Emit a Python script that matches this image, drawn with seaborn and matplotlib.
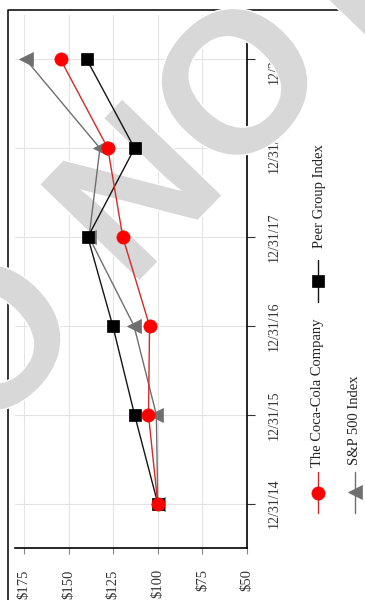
import numpy as np
import pandas as pd
import matplotlib
matplotlib.use("Agg")
import matplotlib.pyplot as plt
import matplotlib.patheffects as pe
from matplotlib.lines import Line2D
import seaborn as sns

# Five-year cumulative total return, $100 invested on 12/31/14
dates = ["12/31/14", "12/31/15", "12/31/16", "12/31/17", "12/31/18", "12/31/19"]
coca_cola = [100, 105.2, 104.6, 119.6, 128.0, 154.5]
peer_group = [100, 113.0, 125.2, 139.2, 113.0, 139.8]
sp500 = [100, 100.8, 113.3, 138.5, 132.4, 174.0]
value_ticks = [50, 75, 100, 125, 150, 175]
value_labels = [f"${v}" for v in value_ticks]
series_names = ["S&P 500 Index", "Peer Group Index", "The Coca-Cola Company"]

W, H = 365, 600

sns.set_style("white")
plt.rcParams["font.family"] = ["Liberation Serif", "DejaVu Serif"]

pos = np.arange(len(dates))
df = pd.DataFrame({
    "date_pos": np.tile(pos, 3),
    "value": sp500 + peer_group + coca_cola,
    "series": np.repeat(series_names, len(dates)),
})

styles = {
    "S&P 500 Index": dict(color="#6f6f6f", marker="<", markersize=9.5,
                          mfc="#6f6f6f", mec="#6f6f6f", mew=0.5),
    "Peer Group Index": dict(color="#151515", marker="s", markersize=9.3,
                             mfc="#000000", mec="#000000", mew=0.5),
    "The Coca-Cola Company": dict(color="#d42a2a", marker="o", markersize=9.5,
                                  mfc="#ff0000", mec="#ff0000", mew=0.5),
}

fig = plt.figure(figsize=(W / 100, H / 100), dpi=100)
ax = fig.add_axes([15 / W, 52 / H, 232 / W, 533 / H])

# page is turned on its side: value runs right-to-left, dates bottom-to-top
for name in series_names:
    sub = df[df["series"] == name]
    sns.lineplot(data=sub, x="value", y="date_pos", orient="y", sort=False,
                 estimator=None, linewidth=1.0, ax=ax, legend=False,
                 **styles[name])

ax.set_xlim(180, 50)
ax.set_ylim(-0.5, 5.5)
ax.set_xticks(value_ticks)
ax.set_xticklabels(value_labels, rotation=90)
ax.yaxis.tick_right()
ax.set_yticks(pos)
ax.set_yticklabels(dates, rotation=90, va="center")
ax.set_xlabel("")
ax.set_ylabel("")

ax.set_axisbelow(True)
ax.grid(True, color="#e4e4e4", linewidth=0.8)
for side in ("left", "top"):
    ax.spines[side].set_visible(False)
for side in ("bottom", "right"):
    ax.spines[side].set_linewidth(1.2)
    ax.spines[side].set_color("#000000")
    ax.spines[side].set_zorder(1)

ax.tick_params(axis="x", bottom=True, length=4.3, width=0.8, color="#888888",
               pad=11, labelsize=10.5, labelcolor="#333333")
ax.tick_params(axis="y", right=True, left=False, labelright=True,
               labelleft=False, length=5.8, width=0.8, color="#333333",
               pad=9, labelsize=10, labelcolor="#333333")

# page border
fig.add_artist(Line2D([8 / W, 8 / W, 1.05], [-0.05, 1 - 10 / H, 1 - 10 / H],
                      transform=fig.transFigure, color="#000000",
                      linewidth=1.1, zorder=-1))

# legend, turned with the page
def legend_entry(x, y0, ym, y1, label, tx, ty, name):
    st = styles[name]
    fig.add_artist(Line2D([x / W] * 3, [1 - y0 / H, 1 - ym / H, 1 - y1 / H],
                          transform=fig.transFigure, linewidth=1.0,
                          markevery=[1], **st))
    fig.text(tx / W, 1 - ty / H, label, rotation=90, ha="center", va="bottom",
             fontsize=10.5, color="#222222")

legend_entry(318, 472, 493, 513, "The Coca-Cola Company", 318, 467,
             "The Coca-Cola Company")
legend_entry(318, 260, 281, 302, "Peer Group Index", 319, 248,
             "Peer Group Index")
legend_entry(355, 472, 492, 513, "S&P 500 Index", 355, 465, "S&P 500 Index")

# watermark across the page
ax.text(-116.8 / W, 1 - 545.4 / H, "DO NOT COPY", transform=fig.transFigure,
        rotation=46, rotation_mode="anchor", ha="left", va="baseline",
        fontsize=144, family="Liberation Sans", weight="bold",
        color="#d8d8d8", zorder=1.8, clip_on=False,
        path_effects=[pe.withStroke(linewidth=2, foreground="white")])

fig.savefig("out.png", dpi=100)
